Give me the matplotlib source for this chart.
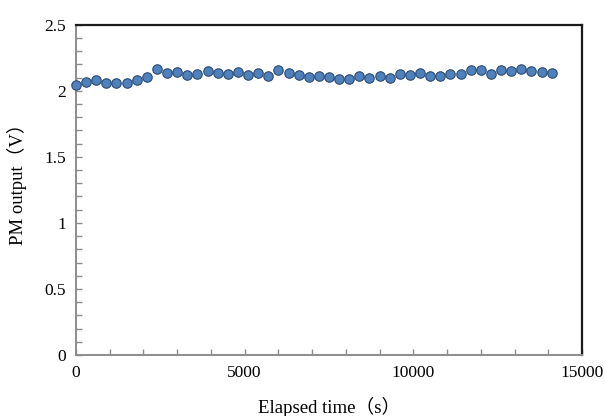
import matplotlib
matplotlib.use("Agg")
import matplotlib.pyplot as plt
from matplotlib.ticker import MultipleLocator

plt.rcParams["font.family"] = ["Liberation Serif", "Noto Sans CJK JP"]

# elapsed time (s) and photomultiplier output (V)
elapsed_s = [0, 300, 600, 900, 1200, 1500, 1800, 2100, 2400, 2700,
             3000, 3300, 3600, 3900, 4200, 4500, 4800, 5100, 5400, 5700,
             6000, 6300, 6600, 6900, 7200, 7500, 7800, 8100, 8400, 8700,
             9000, 9300, 9600, 9900, 10200, 10500, 10800, 11100, 11400, 11700,
             12000, 12300, 12600, 12900, 13200, 13500, 13800, 14100]
pm_output = [2.047, 2.067, 2.085, 2.060, 2.060, 2.062, 2.080, 2.105, 2.165, 2.132,
             2.140, 2.122, 2.130, 2.147, 2.132, 2.128, 2.145, 2.122, 2.137, 2.115,
             2.158, 2.135, 2.122, 2.102, 2.115, 2.107, 2.092, 2.090, 2.110, 2.098,
             2.113, 2.095, 2.128, 2.122, 2.135, 2.110, 2.113, 2.130, 2.125, 2.160,
             2.160, 2.125, 2.160, 2.152, 2.165, 2.150, 2.145, 2.135]

x_label = "Elapsed time（s）"
y_label = "PM output（V）"

fig = plt.figure(figsize=(6.06, 4.16), dpi=100)
ax = fig.add_axes([76 / 606, 1 - 355 / 416, 506 / 606, 330.3 / 416])

ax.plot(elapsed_s, pm_output, linestyle="none", marker="o", markersize=6.8,
        markerfacecolor="#4F81BD", markeredgecolor="#2C4A70", markeredgewidth=0.8,
        clip_on=False, zorder=3)

ax.set_xlim(0, 15000)
ax.set_ylim(0, 2.5)
ax.xaxis.set_major_locator(MultipleLocator(5000))
ax.xaxis.set_minor_locator(MultipleLocator(1000))
ax.yaxis.set_major_locator(MultipleLocator(0.5))
ax.yaxis.set_minor_locator(MultipleLocator(0.1))
ax.yaxis.set_major_formatter(plt.FuncFormatter(lambda v, _: f"{v:g}"))

gray = "#8C8C8C"
for side in ("left", "bottom"):
    ax.spines[side].set_color(gray)
    ax.spines[side].set_linewidth(1.4)
for side in ("top", "right"):
    ax.spines[side].set_color("#1A1A1A")
    ax.spines[side].set_linewidth(1.6)

ax.tick_params(which="both", direction="in", color=gray, width=1.0)
ax.tick_params(which="major", length=4, labelsize=12.5, pad=7)
ax.tick_params(which="minor", length=4)

ax.set_xlabel(x_label, fontsize=13.5)
ax.xaxis.set_label_coords(0.5, -0.128)
ax.set_ylabel(y_label, fontsize=13.5)
ax.yaxis.set_label_coords(-0.097, 0.53)

fig.savefig("out.png", dpi=100, facecolor="white")
